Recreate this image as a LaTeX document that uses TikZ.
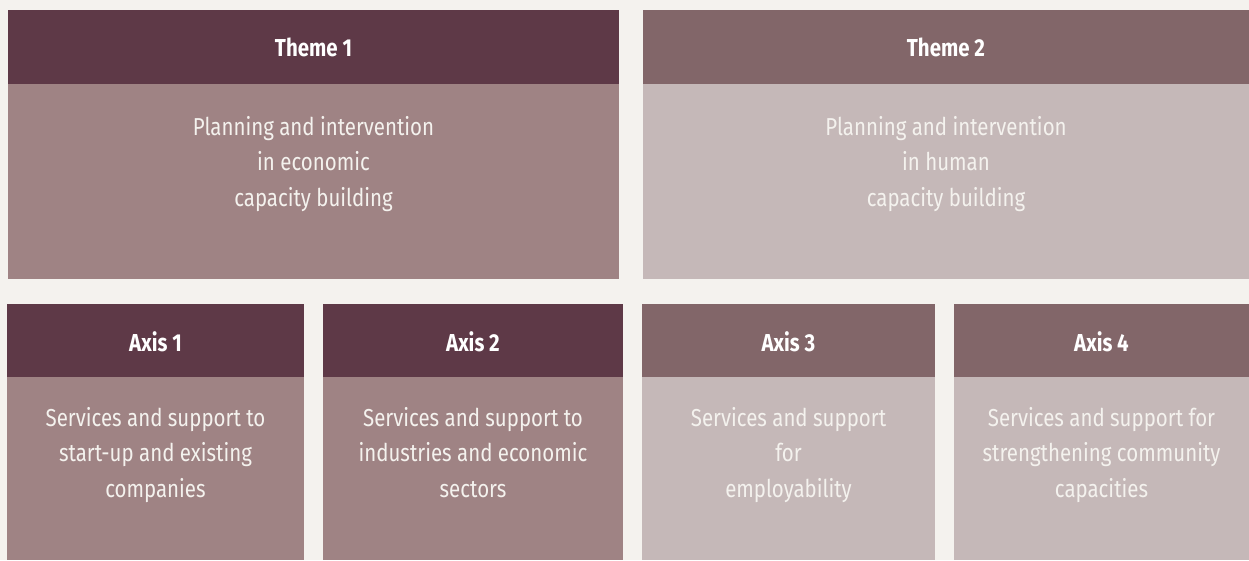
\documentclass[tikz,border=0pt]{standalone}
\usepackage{fontspec}
\setmainfont[FakeStretch=0.835]{Fira Sans}
\definecolor{bg}{HTML}{F4F2EE}
\definecolor{darkhd}{HTML}{5E3947}
\definecolor{midbd}{HTML}{9F8384}
\definecolor{lighthd}{HTML}{826669}
\definecolor{lightbd}{HTML}{C5B8B8}
\newcommand{\fl}{\rule{0pt}{20pt}}
\begin{document}
\begin{tikzpicture}[x=1pt,y=-1pt,
  hdtext/.style={text=white,font=\fontsize{24.5}{28}\selectfont\bfseries,anchor=base,inner sep=0pt},
  bdtext/.style={text=bg,font=\fontsize{24.5}{35.5}\selectfont,align=center,anchor=north,inner sep=0pt,outer sep=0pt}]
\fill[bg] (0,0) rectangle (1249,560);
\useasboundingbox (0,0) rectangle (1249,560);
% Theme 1
\fill[darkhd] (8,10) rectangle (619,84);
\fill[midbd] (8,84) rectangle (619,279);
\node[hdtext] (t1h) at (313.5,56) {Theme 1};
\node[bdtext] (t1b) at (313.5,115) {\fl Planning and intervention\\in economic\\capacity building};
% Theme 2
\fill[lighthd] (643,10) rectangle (1249,84);
\fill[lightbd] (643,84) rectangle (1249,279);
\node[hdtext] (t2h) at (946,56) {Theme 2};
\node[bdtext] (t2b) at (946,115) {\fl Planning and intervention\\in human\\capacity building};
% Axes
\fill[darkhd] (7,304) rectangle (304,377);
\fill[midbd] (7,377) rectangle (304,560);
\node[hdtext] (a1h) at (155.5,351) {Axis 1};
\node[bdtext] (a1b) at (155.5,406) {\fl Services and support to\\start-up and existing\\companies};
\fill[darkhd] (323,304) rectangle (623,377);
\fill[midbd] (323,377) rectangle (623,560);
\node[hdtext] (a2h) at (473,351) {Axis 2};
\node[bdtext] (a2b) at (473,406) {\fl Services and support to\\industries and economic\\sectors};
\fill[lighthd] (642,304) rectangle (935,377);
\fill[lightbd] (642,377) rectangle (935,560);
\node[hdtext] (a3h) at (788.5,351) {Axis 3};
\node[bdtext] (a3b) at (788.5,406) {\fl Services and support\\for\\employability};
\fill[lighthd] (954,304) rectangle (1249,377);
\fill[lightbd] (954,377) rectangle (1249,560);
\node[hdtext] (a4h) at (1101.5,351) {Axis 4};
\node[bdtext] (a4b) at (1101.5,406) {\fl Services and support for\\strengthening community\\capacities};
\end{tikzpicture}
\end{document}
